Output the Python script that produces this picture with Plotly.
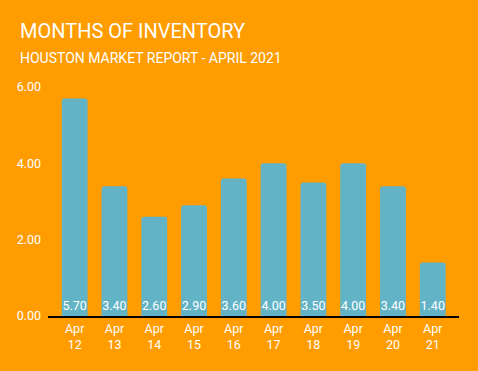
import plotly.graph_objects as go

categories = ["Apr<br>12", "Apr<br>13", "Apr<br>14", "Apr<br>15", "Apr<br>16",
              "Apr<br>17", "Apr<br>18", "Apr<br>19", "Apr<br>20", "Apr<br>21"]
values = [5.70, 3.40, 2.60, 2.90, 3.60, 4.00, 3.50, 4.00, 3.40, 1.40]
y_ticks = [0, 2, 4, 6]
y_tick_labels = ["0.00", "2.00", "4.00", "6.00"]

bg = "#FF9C00"
bar_color = "#63B3C6"
font = "Roboto"

fig = go.Figure(go.Bar(
    x=categories,
    y=values,
    marker=dict(color=bar_color, cornerradius=3, line=dict(width=0)),
    text=[f"{v:.2f}" for v in values],
    textposition="inside",
    insidetextanchor="start",
    textfont=dict(color="white", size=12.5, family=font),
    textangle=0,
))

W, H = 478, 371
ml, mr, mt, mb = 48, 19, 87, 55
pw, ph = W - ml - mr, H - mt - mb

fig.update_layout(
    width=W, height=H,
    paper_bgcolor=bg, plot_bgcolor=bg,
    margin=dict(l=ml, r=mr, t=mt, b=mb),
    bargap=0.35,
    showlegend=False,
    uniformtext=dict(minsize=12, mode="show"),
    font=dict(family=font, color="white", size=12),
    xaxis=dict(
        range=[-0.67, 9.66],
        showgrid=False, zeroline=False,
        showline=True, linecolor="black", linewidth=1.5,
        ticks="", tickfont=dict(size=12.5, color="white"),
        fixedrange=True,
    ),
    yaxis=dict(
        range=[0, 6],
        tickvals=y_ticks, ticktext=y_tick_labels,
        showgrid=False, zeroline=False, showline=False,
        ticks="", ticklabelstandoff=6,
        tickfont=dict(size=12.5, color="white"),
        fixedrange=True,
    ),
)

anns = [
    ("MONTHS OF INVENTORY", 18, 31, 20),
    ("HOUSTON MARKET REPORT - APRIL 2021", 18, 58, 14),
]
for text, px, py, size in anns:
    fig.add_annotation(
        text=text,
        x=(px - ml) / pw, y=1 - (py - mt) / ph,
        xref="paper", yref="paper",
        xanchor="left", yanchor="middle",
        showarrow=False,
        font=dict(size=size, color="white", family=font),
    )

fig.write_html(
    "out.html",
    config={"displayModeBar": False},
    post_script="document.body.style.margin='0';document.body.style.overflow='hidden';",
)
